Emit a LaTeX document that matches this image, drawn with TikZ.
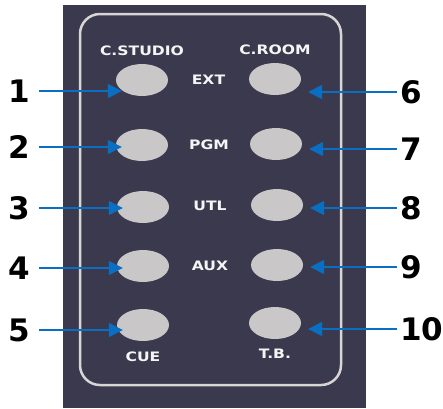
\documentclass[tikz,border=0pt]{standalone}
\usepackage{fontspec}
\setmainfont{DejaVu Sans}
\newfontfamily\panelfont[FakeStretch=1.2]{DejaVu Sans Bold}
\usepackage{tikz}
\usetikzlibrary{
    arrows.meta,
    shapes.geometric,
    positioning,
    calc
}
\definecolor{panelgray}{HTML}{3A394D}
\definecolor{framegray}{HTML}{D9D5D5}
\definecolor{buttongray}{HTML}{C9C7C7}
\definecolor{pointerblue}{HTML}{0A6EC2}
\tikzstyle{button} = [
    ellipse,
    fill=buttongray,
    minimum width=52pt,
    minimum height=32pt,
    inner sep=0pt
]
\tikzstyle{caption} = [
    text=white!92!gray,
    inner sep=1pt,
    font=\panelfont\fontsize{13}{13}\selectfont
]
\tikzstyle{number} = [
    font=\fontsize{31}{31}\selectfont\bfseries,
    inner ysep=0pt
]
\tikzstyle{pointer} = [
    -{Triangle[length=14pt,width=14pt]},
    line width=1.6pt,
    draw=pointerblue
]

\begin{document}
\begin{tikzpicture}[x=1pt, y=-1pt]
    \useasboundingbox (0,0) rectangle (443,408);
    % Panel
    \fill[panelgray] (63,5) rectangle (366,408);
    \draw[framegray, line width=2.5pt, rounded corners=20pt] (80,14) rectangle (341,385);

    % Buttons, C.STUDIO side
    \node[button] (sext) at (142,80) {};
    \node[button] (spgm) at (142,145) {};
    \node[button] (sutl) at (143,207) {};
    \node[button] (saux) at (143,266) {};
    \node[button] (scue) at (143,325) {};

    % Buttons, C.ROOM side
    \node[button] (rext) at (275,79) {};
    \node[button] (rpgm) at (276,144) {};
    \node[button] (rutl) at (277,205) {};
    \node[button] (raux) at (277,265) {};
    \node[button] (rtb) at (275,323) {};

    % Captions
    \node[caption, above=7pt of sext] (cstudio) {C.STUDIO};
    \node[caption, above=7pt of rext] (croom) {C.ROOM};
    \node[caption] (ext) at ($(sext)!0.5!(rext)$) {EXT};
    \node[caption] (pgm) at ($(spgm)!0.5!(rpgm)$) {PGM};
    \node[caption] (utl) at ($(sutl)!0.5!(rutl)$) {UTL};
    \node[caption] (aux) at ($(saux)!0.5!(raux)$) {AUX};
    \node[caption, below=9pt of scue] (cue) {CUE};
    \node[caption, below=9pt of rtb] (tb) {T.B.};

    % Numbers
    \node[number, anchor=east, inner xsep=9pt] (n1) at (39,91) {1};
    \node[number, anchor=east, inner xsep=9pt] (n2) at (39,147) {2};
    \node[number, anchor=east, inner xsep=9pt] (n3) at (39,208) {3};
    \node[number, anchor=east, inner xsep=9pt] (n4) at (39,268) {4};
    \node[number, anchor=east, inner xsep=9pt] (n5) at (39,330) {5};
    \node[number, anchor=west, inner xsep=3pt] (n6) at (397,92) {6};
    \node[number, anchor=west, inner xsep=3pt] (n7) at (397,149) {7};
    \node[number, anchor=west, inner xsep=3pt] (n8) at (397,208) {8};
    \node[number, anchor=west, inner xsep=3pt] (n9) at (397,267) {9};
    \node[number, anchor=west, inner xsep=3pt] (n10) at (397,329) {10};

    % Arrows
    \draw[pointer, shorten >=-6pt] (n1) -- (n1 -| sext.west);
    \draw[pointer, shorten >=-6pt] (n2) -- (n2 -| spgm.west);
    \draw[pointer, shorten >=-6pt] (n3) -- (n3 -| sutl.west);
    \draw[pointer, shorten >=-6pt] (n4) -- (n4 -| saux.west);
    \draw[pointer, shorten >=-6pt] (n5) -- (n5 -| scue.west);
    \draw[pointer, shorten >=7pt] (n6) -- (n6 -| rext.east);
    \draw[pointer, shorten >=7pt] (n7) -- (n7 -| rpgm.east);
    \draw[pointer, shorten >=7pt] (n8) -- (n8 -| rutl.east);
    \draw[pointer, shorten >=7pt] (n9) -- (n9 -| raux.east);
    \draw[pointer, shorten >=7pt] (n10) -- (n10 -| rtb.east);
\end{tikzpicture}
\end{document}
